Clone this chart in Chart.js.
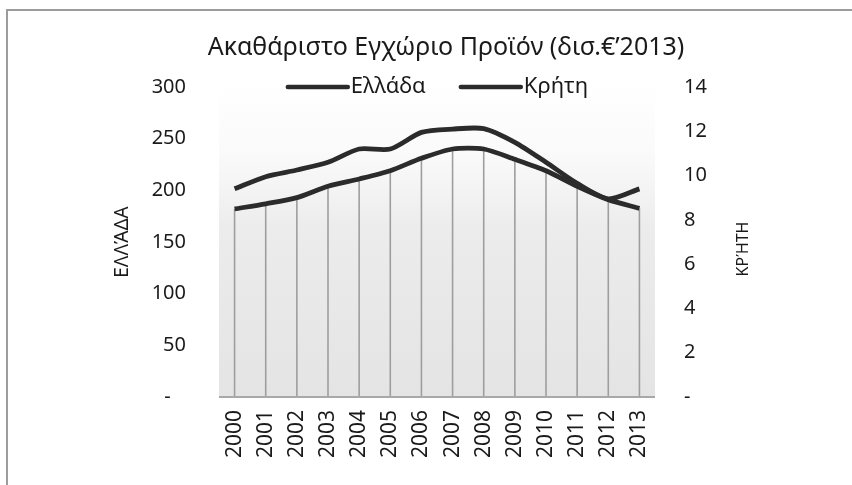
<!DOCTYPE html>
<html>
<head>
<meta charset="utf-8">
<script src="https://cdn.jsdelivr.net/npm/chart.js@4.4.1/dist/chart.umd.min.js"></script>
<style>
  html, body { margin: 0; padding: 0; background: #fff; }
  #wrap { position: relative; width: 852px; height: 485px; }
  #frame { position: absolute; left: 6px; top: 9px; width: 846px; height: 476px;
           border-top: 2px solid #9c9c9c; border-left: 2px solid #9c9c9c; box-sizing: border-box; pointer-events: none; }
  canvas { position: absolute; left: 0; top: 0; }
</style>
</head>
<body>
<div id="wrap">
  <canvas id="c" width="852" height="485"></canvas>
  <div id="frame"></div>
</div>
<script>
// ---- data ----
const years = ['2000','2001','2002','2003','2004','2005','2006','2007','2008','2009','2010','2011','2012','2013'];
const greece = [182, 187, 193, 204, 211, 219, 231, 240, 240, 230, 219, 204, 191, 182.5];
const crete  = [9.4, 9.95, 10.25, 10.6, 11.2, 11.2, 11.95, 12.1, 12.12, 11.5, 10.6, 9.65, 8.95, 9.4];
const greeceLabel = 'Ελλάδα';
const creteLabel = 'Κρήτη';
const titleText = 'Ακαθάριστο Εγχώριο Προϊόν (δισ.€’2013)';
const leftAxisTitle = 'ΕΛΛΆΔΑ';
const rightAxisTitle = 'ΚΡΉΤΗ';

const FONT = "'Noto Sans', 'Open Sans', sans-serif";
const TXT = '#1a1a1a';

const bgPlugin = {
  id: 'bgPlugin',
  beforeDatasetsDraw(chart) {
    const { ctx, chartArea: a } = chart;
    ctx.save();
    const g = ctx.createLinearGradient(0, a.top, 0, a.bottom);
    g.addColorStop(0, 'rgba(235,235,235,0)');
    g.addColorStop(0.2, 'rgba(240,240,240,0.3)');
    g.addColorStop(0.45, 'rgba(236,236,236,1)');
    g.addColorStop(1, 'rgba(228,228,228,1)');
    ctx.fillStyle = g;
    ctx.fillRect(a.left, a.top, a.right - a.left, a.bottom - a.top);
    // drop lines from Greece series
    const meta = chart.getDatasetMeta(0);
    ctx.strokeStyle = '#9e9e9e';
    ctx.lineWidth = 1.6;
    meta.data.forEach(pt => {
      ctx.beginPath();
      ctx.moveTo(pt.x, pt.y);
      ctx.lineTo(pt.x, a.bottom);
      ctx.stroke();
    });
    // bottom axis line
    ctx.strokeStyle = '#a8a8a8';
    ctx.lineWidth = 2;
    ctx.beginPath();
    ctx.moveTo(a.left, a.bottom);
    ctx.lineTo(a.right, a.bottom);
    ctx.stroke();
    ctx.restore();
  }
};

const legendPlugin = {
  id: 'customLegend',
  afterDraw(chart) {
    const { ctx, chartArea: a } = chart;
    const ds = chart.data.datasets;
    ctx.save();
    ctx.font = '22px ' + FONT;
    const lineLen = 62, gap = 3, itemGap = 33;
    const widths = ds.map(d => lineLen + gap + ctx.measureText(d.label).width);
    const total = widths.reduce((s, w) => s + w, 0) + itemGap * (ds.length - 1);
    let x = (a.left + a.right) / 2 - total / 2;
    const y = 87;
    ds.forEach((d, i) => {
      ctx.strokeStyle = d.borderColor;
      ctx.lineWidth = 4.5;
      ctx.lineCap = 'round';
      ctx.beginPath();
      ctx.moveTo(x + 2, y);
      ctx.lineTo(x + lineLen, y);
      ctx.stroke();
      ctx.fillStyle = TXT;
      ctx.textBaseline = 'middle';
      ctx.textAlign = 'left';
      ctx.fillText(d.label, x + lineLen + gap, y);
      x += widths[i] + itemGap;
    });
    // right axis title, reading bottom to top
    const ry = chart.scales.y1;
    ctx.font = '16px ' + FONT;
    ctx.translate(743, 249);
    ctx.rotate(-Math.PI / 2);
    ctx.textAlign = 'center';
    ctx.textBaseline = 'middle';
    ctx.fillText(ry.options.customTitle, 0, 0);
    ctx.restore();
  }
};

new Chart(document.getElementById('c'), {
  type: 'line',
  data: {
    labels: years,
    datasets: [
      { label: greeceLabel, data: greece, yAxisID: 'y', borderColor: '#2b2b2b', borderWidth: 4.8,
        pointRadius: 0, tension: 0.25, fill: false },
      { label: creteLabel, data: crete, yAxisID: 'y1', borderColor: '#2b2b2b', borderWidth: 4.8,
        pointRadius: 0, tension: 0.25, fill: false }
    ]
  },
  options: {
    responsive: false,
    animation: false,
    layout: { padding: { left: 40, right: 0, top: 0, bottom: 0 } },
    plugins: {
      legend: { display: false },
      tooltip: { enabled: false },
      title: {
        display: true, text: titleText, color: TXT,
        font: { family: FONT, size: 25, weight: 'normal' },
        padding: { top: 33, bottom: 24 }
      }
    },
    scales: {
      x: {
        offset: true,
        grid: { display: false, drawTicks: false },
        border: { display: false },
        ticks: { color: TXT, font: { family: FONT, size: 21 }, maxRotation: 90, minRotation: 90, padding: 13, autoSkip: false },
        afterFit(s) { s.height = 88; }
      },
      y: {
        position: 'left', min: 0, max: 300,
        grid: { display: false, drawTicks: false },
        border: { display: false },
        ticks: { stepSize: 50, color: TXT, font: { family: FONT, size: 20 }, padding: 33,
                 callback: v => v === 0 ? '- \u2002' : String(v) },
        title: { display: true, text: leftAxisTitle, color: TXT, font: { family: FONT, size: 19 }, padding: { top: 71, bottom: 0 } },
        afterFit(s) { s.width = 179; }
      },
      y1: {
        position: 'right', min: 0, max: 14,
        customTitle: rightAxisTitle,
        grid: { display: false, drawTicks: false },
        border: { display: false },
        ticks: { stepSize: 2, color: TXT, font: { family: FONT, size: 20 }, padding: 29,
                 callback: v => v === 0 ? '-' : String(v) },
        afterFit(s) { s.width = 197; }
      }
    }
  },
  plugins: [bgPlugin, legendPlugin]
});
</script>
</body>
</html>
